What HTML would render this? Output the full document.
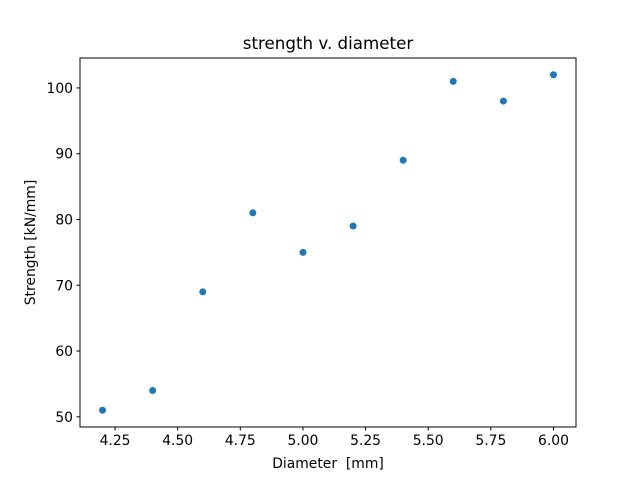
<!DOCTYPE html>
<html><head><meta charset="utf-8"><style>
body{margin:0;background:#fff}
svg text{font-family:"DejaVu Sans","Liberation Sans",sans-serif;fill:#000;white-space:pre}
</style></head><body>
<svg id="chart" width="640" height="480" xmlns="http://www.w3.org/2000/svg">
<rect width="640" height="480" fill="#fff"/>
<text x="328" y="49" font-size="16.7" text-anchor="middle">strength v. diameter</text>
<g id="ticks"></g>
<g id="points"></g>
<rect x="80" y="58" width="496" height="369" fill="none" stroke="#000" stroke-width="1"/>
<text x="328" y="468" font-size="13.9" text-anchor="middle" xml:space="preserve">Diameter  [mm]</text>
<text transform="translate(35,242.5) rotate(-90)" font-size="13.9" text-anchor="middle">Strength [kN/mm]</text>
</svg>
<script>
const diameters=[4.2,4.4,4.6,4.8,5.0,5.2,5.4,5.6,5.8,6.0];
const strengths=[51,54,69,81,75,79,89,101,98,102];
const xTicks=[4.25,4.5,4.75,5.0,5.25,5.5,5.75,6.0];
const xTickLabels=["4.25","4.50","4.75","5.00","5.25","5.50","5.75","6.00"];
const yTicks=[50,60,70,80,90,100];
const yTickLabels=["50","60","70","80","90","100"];
const NS="http://www.w3.org/2000/svg";
const L=80,R=576,T=58,B=427;
const xmin=Math.min(...diameters),xmax=Math.max(...diameters),xm=(xmax-xmin)*0.05;
const ymin=Math.min(...strengths),ymax=Math.max(...strengths),ym=(ymax-ymin)*0.05;
const sx=v=>L+(v-(xmin-xm))/((xmax+xm)-(xmin-xm))*(R-L);
const sy=v=>B-(v-(ymin-ym))/((ymax+ym)-(ymin-ym))*(B-T);
const tg=document.getElementById('ticks'),pg=document.getElementById('points');
function mk(tag,attrs){const e=document.createElementNS(NS,tag);for(const k in attrs)e.setAttribute(k,attrs[k]);return e;}
xTicks.forEach((v,i)=>{
 const x=sx(v);
 const l=mk('line',{x1:x,x2:x,y1:B,y2:B+3.5,stroke:'#000'});
 
 
 tg.appendChild(l);
 const t=mk('text',{x:x,y:B+18,'font-size':13.9,'text-anchor':'middle'});
 
 
 t.textContent=xTickLabels[i];tg.appendChild(t);
});
yTicks.forEach((v,i)=>{
 const y=sy(v);
 const l=mk('line',{x1:L-3.5,x2:L,y1:y,y2:y,stroke:'#000'});
 
 
 tg.appendChild(l);
 const t=mk('text',{x:L-7,y:y+5,'font-size':13.9,'text-anchor':'end'});
 
 
 t.textContent=yTickLabels[i];tg.appendChild(t);
});
diameters.forEach((d,i)=>{
 const c=mk('circle',{cx:sx(d),cy:sy(strengths[i]),r:3.5,fill:'#1f77b4'});
 
 
 pg.appendChild(c);
});
</script>
</body></html>
